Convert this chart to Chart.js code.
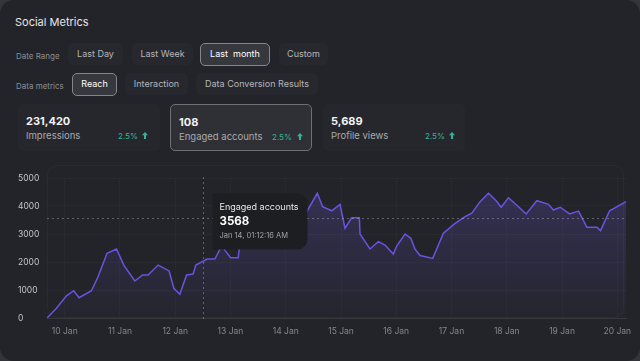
<html>
<head>
<script src="https://cdn.jsdelivr.net/npm/chart.js@4.4.1/dist/chart.umd.min.js"></script>
<style>
  body { margin:0; background:#34353a; font-family:Inter, "Noto Sans", sans-serif; }
  .card { position:absolute; left:0; top:0; width:640px; height:361px; background:#232429; border-radius:14px; overflow:hidden; }
  .title { position:absolute; left:15px; top:15px; font-size:11px; color:#e6e6e9; }
  .lbl { position:absolute; left:16px; font-size:8px; color:#8c8d92; }
  .btn { position:absolute; box-sizing:border-box; height:22px; line-height:22px; text-align:center; font-size:9px; color:#b5b6ba; background:#26282e; border-radius:5px; }
  .btn.on { background:#37383d; border:1px solid #85868a; color:#fff; line-height:20px; }
  .stat { position:absolute; top:104px; width:142px; height:47px; box-sizing:border-box; background:#26272d; border-radius:5px; }
  .stat.on { background:#2f3035; border:1px solid #6e6f73; }
  .stat .v { position:absolute; left:8px; top:10px; font-size:11px; font-weight:700; color:#f2f2f4; }
  .stat .n { position:absolute; left:8px; top:26px; font-size:9.5px; color:#a9aaae; }
  .stat .p { position:absolute; top:27px; font-size:8px; color:#36b39b; }
  .stat .a { position:absolute; top:28px; }
  #wrap { position:absolute; left:0; top:160px; width:640px; height:180px; }
</style>
</head>
<body>
<div class="card">
  <div class="title">Social Metrics</div>

  <div class="lbl" style="top:51px">Date Range</div>
  <div class="btn" style="left:68px;top:43px;width:55px">Last Day</div>
  <div class="btn" style="left:132px;top:43px;width:61px">Last Week</div>
  <div class="btn on" style="left:200px;top:43px;width:70px;height:23px">Last&nbsp; month</div>
  <div class="btn" style="left:279px;top:43px;width:49px">Custom</div>

  <div class="lbl" style="top:81px">Data metrics</div>
  <div class="btn on" style="left:72px;top:73px;width:45px;height:23px">Reach</div>
  <div class="btn" style="left:125px;top:73px;width:63px">Interaction</div>
  <div class="btn" style="left:196px;top:73px;width:122px">Data Conversion Results</div>

  <div class="stat" style="left:18px">
    <div class="v">231,420</div><div class="n">Impressions</div>
    <div class="p" style="left:100px">2.5%</div>
    <svg class="a" style="left:124px" width="6" height="7" viewBox="0 0 6 7"><path d="M3 0 L6 3.2 L4 3.2 L4 7 L2 7 L2 3.2 L0 3.2 Z" fill="#36b39b"/></svg>
  </div>
  <div class="stat on" style="left:170px">
    <div class="v">108</div><div class="n">Engaged accounts</div>
    <div class="p" style="left:101px">2.5%</div>
    <svg class="a" style="left:126px" width="6" height="7" viewBox="0 0 6 7"><path d="M3 0 L6 3.2 L4 3.2 L4 7 L2 7 L2 3.2 L0 3.2 Z" fill="#36b39b"/></svg>
  </div>
  <div class="stat" style="left:323px">
    <div class="v">5,689</div><div class="n">Profile views</div>
    <div class="p" style="left:102px">2.5%</div>
    <svg class="a" style="left:126px" width="6" height="7" viewBox="0 0 6 7"><path d="M3 0 L6 3.2 L4 3.2 L4 7 L2 7 L2 3.2 L0 3.2 Z" fill="#36b39b"/></svg>
  </div>

  <div id="wrap"><canvas id="canvas"></canvas></div>
</div>

<script>
// day of January (fractional) for each sample
var days = [9.679, 9.85, 10.031, 10.163, 10.259, 10.484, 10.603, 10.766, 10.937, 11.069,
  11.268, 11.408, 11.509, 11.69, 11.889, 11.975, 12.083, 12.205, 12.324, 12.373,
  12.578, 12.717, 12.839, 12.917, 13.002, 13.139, 13.188, 13.442, 13.714, 13.986,
  14.221, 14.379, 14.571, 14.668, 14.832, 14.982, 15.072, 15.194, 15.332, 15.344,
  15.525, 15.676, 15.797, 15.947, 16.009, 16.159, 16.263, 16.341, 16.431, 16.661,
  16.853, 17.065, 17.246, 17.368, 17.518, 17.668, 17.808, 17.899, 18.031, 18.212,
  18.351, 18.545, 18.755, 18.846, 18.967, 19.136, 19.299, 19.451, 19.632, 19.697,
  19.861, 20.158];
var engaged = [0, 350, 790, 975, 725, 975, 1475, 2310, 2465, 1890,
  1320, 1535, 1535, 1890, 1680, 1060, 845, 1535, 1570, 1890,
  2105, 2105, 2570, 2370, 2155, 2155, 2960, 3210, 3430, 3500,
  3710, 3795, 4455, 3975, 3830, 4060, 3205, 3580, 3580, 3000,
  2465, 2725, 2605, 2285, 2570, 3000, 2845, 2455, 2230, 2130,
  3025, 3380, 3620, 3740, 4155, 4455, 4190, 3955, 4295, 3975,
  3715, 4190, 4060, 3855, 3955, 3715, 3820, 3240, 3240, 3120,
  3830, 4155];
var tickDays = [10, 11, 12, 13, 14, 15, 16, 17, 18, 19, 20];
var tickLabels = ['10 Jan', '11 Jan', '12 Jan', '13 Jan', '14 Jan', '15 Jan', '16 Jan', '17 Jan', '18 Jan', '19 Jan', '20 Jan'];
var yTicks = [0, 1000, 2000, 3000, 4000, 5000];

// hovered sample shown in the tooltip
var hoverDay = 12.5;
var hoverValue = 3568;
var hoverTitle = 'Engaged accounts';
var hoverDate = 'Jan 14, 01:12:16 AM';

var points = days.map(function(d, i) { return { x: d, y: engaged[i] }; });

var hoverPlugin = {
  id: 'hover',
  beforeDatasetsDraw: function(chart) {
    var c = chart.ctx, a = chart.chartArea;
    c.save();
    c.strokeStyle = 'rgba(255,255,255,0.035)';
    c.lineWidth = 1;
    c.beginPath();
    c.roundRect(a.left + 0.5, a.top - 12.5, a.right - a.left - 3, a.bottom - a.top + 12, 10);
    c.stroke();
    c.restore();
  },
  afterDatasetsDraw: function(chart) {
    var c = chart.ctx, a = chart.chartArea;
    var x = Math.round(chart.scales.x.getPixelForValue(hoverDay)) + 0.5;
    var y = Math.round(chart.scales.y.getPixelForValue(hoverValue)) + 0.5;
    c.save();
    c.strokeStyle = 'rgba(255,255,255,0.28)';
    c.lineWidth = 1;
    c.setLineDash([2, 3]);
    c.beginPath();
    c.moveTo(x, a.top - 1); c.lineTo(x, a.bottom + 2);
    c.moveTo(a.left, y); c.lineTo(a.right, y);
    c.stroke();
    c.setLineDash([]);
    // box
    c.fillStyle = '#1d1e22';
    c.beginPath();
    c.roundRect(x + 9, y - 25, 95, 56, [0, 10, 10, 0]);
    c.fill();
    c.textBaseline = 'middle';
    c.textAlign = 'left';
    c.fillStyle = '#e8e8ea';
    c.font = '9px Inter';
    c.fillText(hoverTitle, x + 16, y - 11);
    c.fillStyle = '#ffffff';
    c.font = 'bold 11.5px Inter';
    c.fillText(String(hoverValue), x + 16, y + 3.5);
    c.fillStyle = '#a3a4a8';
    c.font = '7.5px Inter';
    c.fillText(hoverDate, x + 16, y + 17);
    c.restore();
  }
};

var ctx = document.getElementById('canvas').getContext('2d');
var chart = new Chart(ctx, {
  type: 'line',
  data: {
    datasets: [{
      label: 'Engaged accounts',
      data: points,
      borderColor: '#6d51e0',
      borderWidth: 1.5,
      pointRadius: 0,
      tension: 0,
      fill: 'origin',
      backgroundColor: function(context) {
        var ch = context.chart, area = ch.chartArea;
        if (!area) return 'rgba(110,85,215,0.15)';
        var g = ch.ctx.createLinearGradient(0, area.top, 0, area.bottom);
        g.addColorStop(0, 'rgba(112,88,220,0.26)');
        g.addColorStop(1, 'rgba(112,88,220,0.03)');
        return g;
      }
    }]
  },
  options: {
    responsive: true,
    maintainAspectRatio: false,
    animation: false,
    events: [],
    layout: { padding: { left: 18, right: 14, top: 18, bottom: 0 } },
    plugins: { legend: { display: false }, tooltip: { enabled: false } },
    scales: {
      x: {
        type: 'linear',
        min: days[0],
        max: days[days.length - 1],
        afterBuildTicks: function(s) { s.ticks = tickDays.map(function(v) { return { value: v }; }); },
        afterFit: function(s) { s.height = 22; },
        ticks: {
          color: '#85868b',
          font: { family: 'Inter', size: 8.5 },
          padding: 8,
          maxRotation: 0,
          autoSkip: false,
          callback: function(v) { return tickLabels[tickDays.indexOf(v)]; }
        },
        grid: { color: 'rgba(255,255,255,0.025)', drawTicks: false },
        border: { color: 'rgba(255,255,255,0.07)' }
      },
      y: {
        min: 0,
        max: 5000,
        afterBuildTicks: function(s) { s.ticks = yTicks.map(function(v) { return { value: v }; }); },
        afterFit: function(s) { s.width = 29; },
        ticks: {
          color: '#c4c5c9',
          font: { family: 'Inter', size: 8.5 },
          crossAlign: 'far',
          padding: 4,
          callback: function(v) { return String(v); }
        },
        grid: { color: 'rgba(255,255,255,0.03)', drawTicks: false },
        border: { display: false }
      }
    }
  },
  plugins: [hoverPlugin]
});
</script>
</body>
</html>
